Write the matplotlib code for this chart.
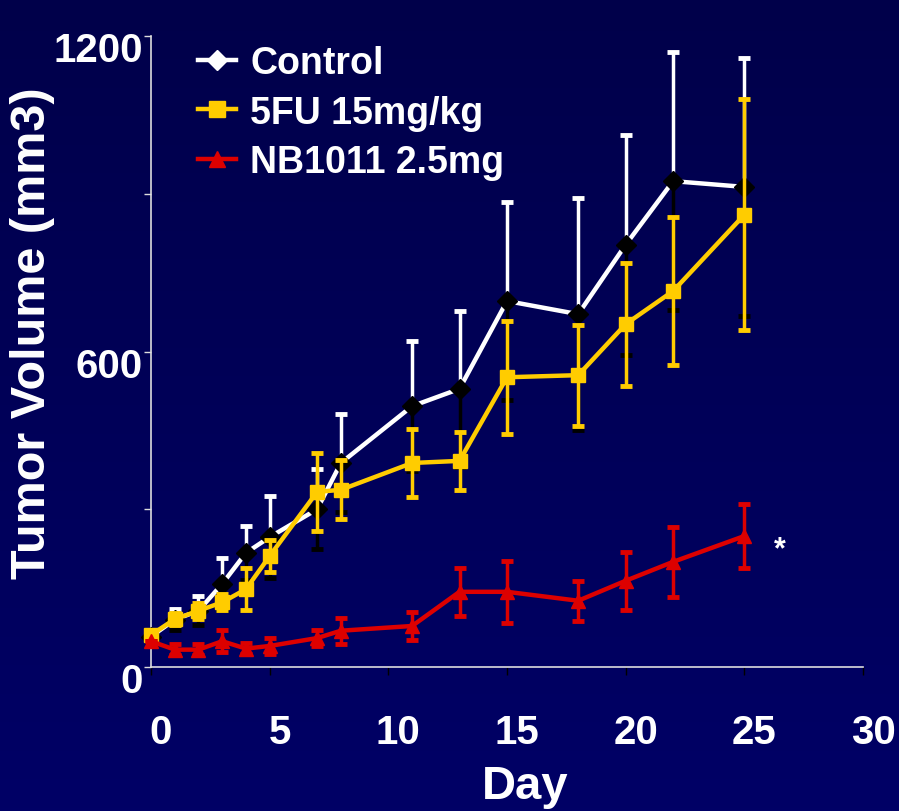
import matplotlib
matplotlib.use('Agg')
import matplotlib.pyplot as plt
import matplotlib.transforms as mtransforms
from matplotlib.colors import LinearSegmentedColormap
from matplotlib.lines import Line2D
import numpy as np

plt.rcParams['font.family'] = ['Liberation Sans', 'DejaVu Sans']
plt.rcParams['font.weight'] = 'bold'

# 数据
days = [0, 1, 2, 3, 4, 5, 7, 8, 11, 13, 15, 18, 20, 22, 25]
control = [58, 90, 107, 158, 217, 247, 300, 388, 496, 529, 696, 671, 803, 924, 913]
control_err = [8, 20, 28, 49, 51, 78, 76, 93, 124, 148, 188, 221, 209, 246, 245]
fu = [61, 91, 107, 123, 148, 211, 333, 337, 388, 392, 551, 555, 652, 715, 860]
fu_err = [8, 12, 15, 15, 40, 30, 74, 56, 64, 55, 107, 96, 117, 140, 220]
nb = [49, 33, 33, 49, 35, 40, 55, 69, 78, 143, 143, 126, 164, 200, 249]
nb_err = [0, 10, 10, 21, 10, 15, 15, 25, 27, 46, 59, 38, 55, 67, 61]

labels = ['Control', '5FU 15mg/kg', 'NB1011 2.5mg']
x_ticks = [0, 5, 10, 15, 20, 25, 30]
y_ticks = [0, 300, 600, 900, 1200]
y_ticklabels = ['0', '', '600', '', '1200']

WHITE = 'white'
YELLOW = '#FFCC00'
RED = '#DD0000'

fig = plt.figure(figsize=(8.99, 8.12), dpi=100)

# 背景渐变
bg = fig.add_axes([0, 0, 1, 1])
cmap = LinearSegmentedColormap.from_list('bg', ['#00004A', '#000066'])
bg.imshow(np.linspace(0, 1, 256).reshape(-1, 1), aspect='auto', cmap=cmap,
          extent=[0, 1, 0, 1])
bg.axis('off')

ax = fig.add_axes([151 / 899, 1 - 668 / 812, (863 - 151) / 899, (668 - 37) / 812])
ax.patch.set_visible(False)

zeros = np.zeros(len(days))

# Control: 上误差白色，下误差黑色
ax.errorbar(days, control, yerr=[zeros, control_err], fmt='none', ecolor=WHITE,
            elinewidth=2.5, capsize=4, capthick=3.5, zorder=2, clip_on=False)
ax.errorbar(days, control, yerr=[control_err, zeros], fmt='none', ecolor='black',
            elinewidth=2.5, capsize=4, capthick=3.5, zorder=2, clip_on=False)
ax.plot(days, control, color=WHITE, lw=3.2, marker='D', ms=10.5, mfc='black',
        mec='black', zorder=3, clip_on=False)

# 5FU
ax.errorbar(days, fu, yerr=fu_err, fmt='none', ecolor=YELLOW, elinewidth=2.5,
            capsize=4, capthick=3.5, zorder=4, clip_on=False)
ax.plot(days, fu, color=YELLOW, lw=3.2, marker='s', ms=10.5, mfc=YELLOW,
        mec=YELLOW, zorder=5, clip_on=False)

# NB1011
ax.errorbar(days, nb, yerr=nb_err, fmt='none', ecolor=RED, elinewidth=2.5,
            capsize=4, capthick=3.5, zorder=6, clip_on=False)
ax.plot(days, nb, color=RED, lw=3.2, marker='^', ms=10.5, mfc=RED, mec=RED,
        zorder=7, clip_on=False)

ax.set_xlim(0, 30)
ax.set_ylim(0, 1200)
ax.set_xticks(x_ticks)
ax.set_yticks(y_ticks)
ax.set_yticklabels(y_ticklabels)

for s in ['top', 'right']:
    ax.spines[s].set_visible(False)
for s in ['left', 'bottom']:
    ax.spines[s].set_color('#DDDDDD')
    ax.spines[s].set_linewidth(1.2)

ax.tick_params(axis='x', direction='out', length=6, width=1, color='black',
               labelcolor='white', labelsize=29, pad=27)
ax.tick_params(axis='y', direction='out', length=5, width=1, color='#DDDDDD',
               labelcolor='white', labelsize=29, pad=1)

# 刻度标签偏移
dx = mtransforms.ScaledTranslation(10 / 100, 0, fig.dpi_scale_trans)
for lab in ax.get_xticklabels():
    lab.set_transform(lab.get_transform() + dx)
dy = mtransforms.ScaledTranslation(0, -10 / 100, fig.dpi_scale_trans)
for lab in ax.get_yticklabels():
    lab.set_transform(lab.get_transform() + dy)

fig.text(33 / 899, 1 - 333 / 812, 'Tumor Volume (mm3)', rotation=90, ha='center',
         va='center', color='white', fontsize=35, fontweight='bold')
fig.text(525 / 899, 1 - 787 / 812, 'Day', ha='center', va='center',
         color='white', fontsize=34, fontweight='bold')
fig.text(780 / 899, 1 - 550 / 812, '*', ha='center', va='center',
         color='white', fontsize=22, fontweight='bold')

handles = [
    Line2D([], [], color=WHITE, lw=3.2, marker='D', ms=10, mfc=WHITE, mec=WHITE),
    Line2D([], [], color=YELLOW, lw=3.2, marker='s', ms=11, mfc=YELLOW, mec=YELLOW),
    Line2D([], [], color=RED, lw=3.2, marker='^', ms=11, mfc=RED, mec=RED),
]
ax.legend(handles, labels, loc='upper left', bbox_to_anchor=(198 / 899, 1 - 46 / 812),
          bbox_transform=fig.transFigure, frameon=False, fontsize=27,
          labelcolor='white', handlelength=1.0, handletextpad=0.4,
          labelspacing=0.36, borderpad=0, borderaxespad=0)

fig.savefig('out.png', dpi=100, facecolor='#000058')
